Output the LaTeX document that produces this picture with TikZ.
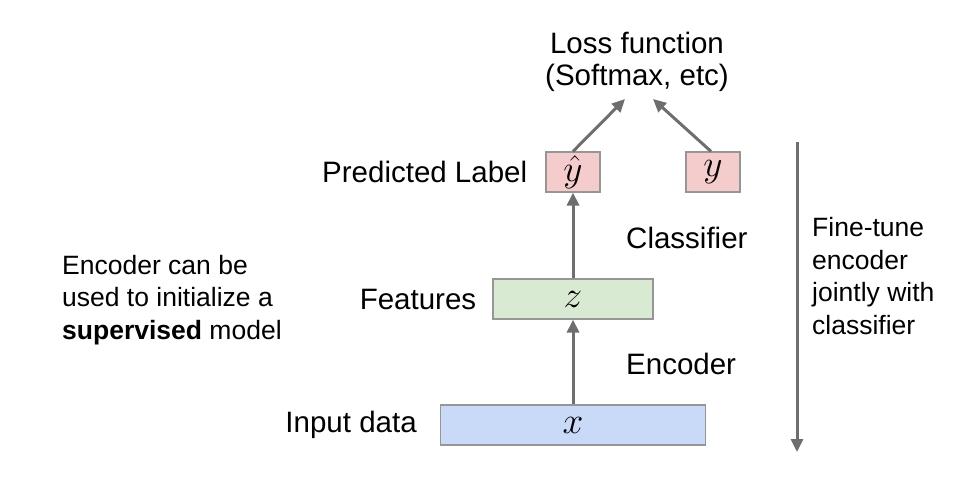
\documentclass[tikz,border=0pt]{standalone}
\usepackage{fontspec}
\setmainfont{Liberation Sans}
\usetikzlibrary{arrows.meta, positioning}
\definecolor{boxpink}{RGB}{244,204,204}
\definecolor{boxgreen}{RGB}{217,234,211}
\definecolor{boxblue}{RGB}{201,218,248}
\definecolor{edgegray}{RGB}{150,150,150}
\definecolor{arrowgray}{RGB}{110,110,110}
\newcommand{\vecsym}[1]{\scalebox{1.5}{$#1$}}

\begin{document}
\begin{tikzpicture}[
    x=1pt, y=-1pt,
    vec/.style={rectangle, draw=edgegray, fill=#1, line width=1.2pt, inner sep=0pt, minimum height=40pt, font=\Huge},
    lbl/.style={font=\fontsize{29.5}{32.5}\selectfont, text=black, inner sep=0pt},
    side/.style={lbl, font=\fontsize{26.5}{32.5}\selectfont, anchor=west, align=left},
    arr/.style={-{Triangle[length=13pt, width=12pt]}, line width=3pt, draw=arrowgray},
]
\useasboundingbox (0,0) rectangle (955,484);

% Vectors
\node[vec=boxblue, minimum width=265pt] (x) at (573,425) {\vecsym{x}};
\node[vec=boxgreen, minimum width=160pt] (z) at (573,299) {\vecsym{z}};
\node[vec=boxpink, minimum width=54pt] (yhat) at (573,172) {\vecsym{\hat{y}}};
\node[vec=boxpink, minimum width=54pt] (y) at (713,172) {\vecsym{y}};

% Labels
\node[lbl, left=23pt of x] (xlbl) {Input data};
\node[lbl, left=16pt of z] (zlbl) {Features};
\node[lbl, left=18pt of yhat] (yhatlbl) {Predicted Label};
\node[lbl, align=center] (loss) at (637,62) {Loss function\\(Softmax, etc)};
\node[lbl, anchor=west] (clf) at (626,238) {Classifier};
\node[lbl, anchor=west] (enc) at (626,364) {Encoder};
\node[side] (ft) at (812,276) {Fine-tune\\encoder\\jointly with\\classifier};
\node[side] (note) at (62,300) {Encoder can be\\used to initialize a\\\textbf{supervised} model};

% Arrows
\coordinate (lossl) at (625,99);
\coordinate (lossr) at (653,99);
\coordinate (ftop) at (797,142);
\coordinate (fbot) at (797,452);
\draw[arr] (x) -- (z);
\draw[arr] (z) -- (yhat);
\draw[arr] (yhat.north) -- (lossl);
\draw[arr] ([xshift=-2pt]y.north) -- (lossr);
\draw[arr] (ftop) -- (fbot);
\end{tikzpicture}
\end{document}
